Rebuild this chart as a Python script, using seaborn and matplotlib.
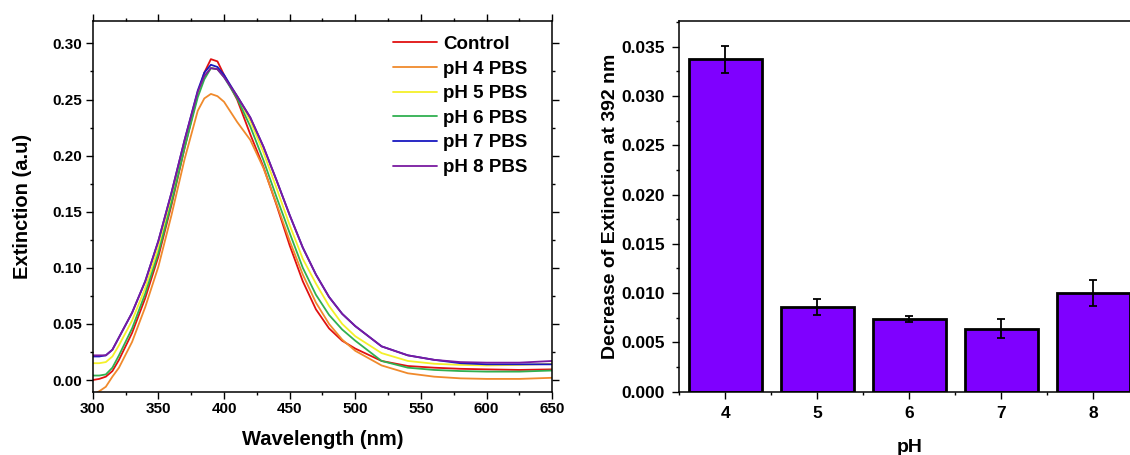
"""Extinction spectra at different pH and the drop of extinction at 392 nm."""

import matplotlib
matplotlib.use("Agg")
import matplotlib.pyplot as plt
import matplotlib.ticker as mticker
import numpy as np
import pandas as pd
import seaborn as sns

# --- spectra (wavelength in nm) ---
wavelength = [300, 305, 310, 315, 320, 330, 340, 350, 360, 370, 380, 385, 390,
              395, 400, 410, 420, 430, 440, 450, 460, 470, 480, 490, 500, 520,
              540, 560, 580, 600, 625, 650]

control = [0.000, 0.001, 0.003, 0.008, 0.018, 0.042, 0.073, 0.110, 0.156, 0.207,
           0.255, 0.274, 0.286, 0.284, 0.272, 0.250, 0.219, 0.190, 0.156, 0.120,
           0.088, 0.063, 0.046, 0.035, 0.028, 0.017, 0.0125, 0.011, 0.010, 0.0095,
           0.009, 0.0095]
ph4 = [-0.013, -0.010, -0.006, 0.003, 0.011, 0.034, 0.065, 0.101, 0.147, 0.197,
       0.240, 0.251, 0.255, 0.253, 0.248, 0.230, 0.214, 0.189, 0.157, 0.124,
       0.094, 0.069, 0.050, 0.036, 0.026, 0.013, 0.006, 0.003, 0.0015, 0.001,
       0.001, 0.002]
ph5 = [0.015, 0.015, 0.016, 0.021, 0.031, 0.053, 0.082, 0.118, 0.162, 0.211,
       0.255, 0.270, 0.278, 0.277, 0.271, 0.253, 0.231, 0.203, 0.171, 0.138,
       0.108, 0.086, 0.066, 0.050, 0.039, 0.024, 0.017, 0.0145, 0.0135, 0.013,
       0.0135, 0.0145]
ph6 = [0.004, 0.004, 0.005, 0.011, 0.022, 0.046, 0.077, 0.113, 0.158, 0.207,
       0.252, 0.268, 0.278, 0.277, 0.270, 0.251, 0.226, 0.196, 0.163, 0.131,
       0.100, 0.076, 0.058, 0.045, 0.035, 0.017, 0.011, 0.009, 0.008, 0.0075,
       0.0075, 0.0085]
ph7 = [0.021, 0.021, 0.022, 0.027, 0.038, 0.060, 0.088, 0.124, 0.167, 0.214,
       0.258, 0.274, 0.281, 0.279, 0.272, 0.253, 0.234, 0.208, 0.178, 0.147,
       0.118, 0.094, 0.074, 0.059, 0.048, 0.030, 0.022, 0.018, 0.015, 0.014,
       0.014, 0.014]
ph8 = [0.022, 0.022, 0.022, 0.027, 0.038, 0.060, 0.088, 0.124, 0.167, 0.214,
       0.257, 0.271, 0.278, 0.277, 0.270, 0.253, 0.234, 0.208, 0.178, 0.147,
       0.118, 0.094, 0.074, 0.059, 0.048, 0.030, 0.022, 0.018, 0.016, 0.0155,
       0.0155, 0.017]

series_labels = ["Control", "pH 4 PBS", "pH 5 PBS", "pH 6 PBS", "pH 7 PBS", "pH 8 PBS"]
series_colors = ["#E01010", "#F08A2C", "#F4F02A", "#30B050", "#1818C0", "#7A1AA0"]

# --- bar chart ---
ph_values = ["4", "5", "6", "7", "8"]
decrease = [0.0337, 0.0086, 0.0074, 0.0064, 0.0100]
decrease_err = [0.0014, 0.0008, 0.0003, 0.0010, 0.0013]
BAR_COLOR = "#7F00FF"

sns.set_theme(style="ticks")
plt.rcParams["font.family"] = ["Liberation Sans", "DejaVu Sans"]
plt.rcParams["font.weight"] = "bold"
plt.rcParams["axes.labelweight"] = "bold"
plt.rcParams["axes.edgecolor"] = "black"
plt.rcParams["axes.linewidth"] = 1.1
for key in ("text.color", "axes.labelcolor", "xtick.color", "ytick.color"):
    plt.rcParams[key] = "black"

rows = []
for label, vals in zip(series_labels,
                       [control, ph4, ph5, ph6, ph7, ph8]):
    for wl, v in zip(wavelength, vals):
        rows.append({"wavelength": wl, "extinction": v, "sample": label})
spectra = pd.DataFrame(rows)

fig = plt.figure(figsize=(11.3, 4.55), dpi=100)
W, H = 1130, 455
ax1 = fig.add_axes([92.7 / W, (H - 391.7) / H, 459.6 / W, 370.7 / H])
ax2 = fig.add_axes([679.3 / W, (H - 391.7) / H, 460 / W, 370.7 / H])

# left: spectra
sns.lineplot(data=spectra, x="wavelength", y="extinction", hue="sample",
             hue_order=series_labels, palette=series_colors, linewidth=1.3,
             ax=ax1, sort=True, estimator=None)
ax1.set_xlim(300, 650)
ax1.set_ylim(-0.0104, 0.320)
ax1.xaxis.set_major_locator(mticker.MultipleLocator(50))
ax1.xaxis.set_minor_locator(mticker.MultipleLocator(25))
ax1.yaxis.set_major_locator(mticker.MultipleLocator(0.05))
ax1.yaxis.set_minor_locator(mticker.MultipleLocator(0.025))
ax1.yaxis.set_major_formatter(mticker.FormatStrFormatter("%.2f"))
ax1.tick_params(which="both", direction="out", top=True, right=True,
                width=1.0, color="black")
ax1.tick_params(which="major", length=4.8, labelsize=11, pad=2.5)
ax1.tick_params(which="minor", length=2.5)
for lab in ax1.get_xticklabels() + ax1.get_yticklabels():
    lab.set_fontweight("bold")
ax1.set_xlabel("Wavelength (nm)", fontsize=14.5, fontweight="bold", labelpad=10)
ax1.set_ylabel("Extinction (a.u)", fontsize=14.5, fontweight="bold", labelpad=15)

handles, labels = ax1.get_legend_handles_labels()
ax1.legend(handles, labels, loc="upper left", bbox_to_anchor=(0.653, 0.960),
           frameon=False, handlelength=2.35, handletextpad=0.32,
           labelspacing=0.4, borderpad=0, borderaxespad=0,
           prop={"weight": "bold", "size": 13.5})

# right: bars with error bars
sns.barplot(x=ph_values, y=decrease, color=BAR_COLOR, saturation=1,
            edgecolor="black", linewidth=2, width=0.8, ax=ax2)
ax2.errorbar(range(len(ph_values)), decrease, yerr=decrease_err, fmt="none",
             ecolor="black", elinewidth=1.3, capsize=3.2, capthick=1.3)
ax2.set_xlim(-0.5, len(ph_values) - 0.5)
ax2.set_ylim(0, 0.0376)
ax2.yaxis.set_major_locator(mticker.MultipleLocator(0.005))
ax2.yaxis.set_minor_locator(mticker.MultipleLocator(0.0025))
ax2.yaxis.set_major_formatter(mticker.FormatStrFormatter("%.3f"))
ax2.xaxis.set_minor_locator(mticker.FixedLocator(np.arange(-0.5, len(ph_values), 1.0)))
ax2.tick_params(which="both", direction="out", width=1.0, color="black")
ax2.tick_params(which="major", length=4.8, labelsize=12.5, pad=5.5)
ax2.tick_params(which="minor", length=2.5)
for lab in ax2.get_xticklabels() + ax2.get_yticklabels():
    lab.set_fontweight("bold")
ax2.set_xlabel("pH", fontsize=14, fontweight="bold", labelpad=13)
ax2.set_ylabel("Decrease of Extinction at 392 nm", fontsize=14,
               fontweight="bold", labelpad=2)

fig.savefig("out.png", dpi=100)
